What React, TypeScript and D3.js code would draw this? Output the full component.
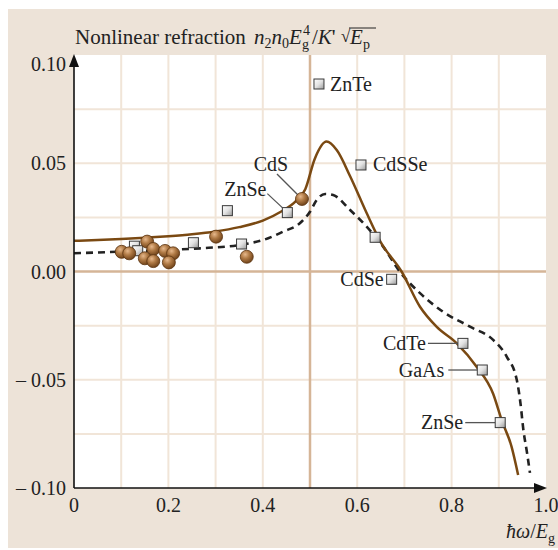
import React from 'react';
import * as d3 from 'd3';

// curve: theory (solid) and a second model (dashed)
const solidX = [0, 0.05, 0.1, 0.15, 0.2, 0.25, 0.3, 0.35, 0.4, 0.44, 0.47, 0.49, 0.51, 0.535, 0.557, 0.585, 0.62, 0.65, 0.694, 0.733, 0.768, 0.811, 0.853, 0.888, 0.906, 0.927, 0.941];
const solidY = [0.0142, 0.0145, 0.015, 0.0156, 0.0163, 0.0172, 0.0185, 0.0205, 0.0235, 0.0278, 0.0325, 0.038, 0.052, 0.06, 0.056, 0.044, 0.027, 0.0135, 0, -0.0163, -0.0255, -0.0332, -0.044, -0.0565, -0.0686, -0.0809, -0.094];

const dashX = [0, 0.1, 0.2, 0.267, 0.358, 0.4, 0.443, 0.479, 0.5, 0.514, 0.532, 0.549, 0.585, 0.62, 0.655, 0.69, 0.733, 0.782, 0.839, 0.888, 0.917, 0.938, 0.946, 0.952, 0.96, 0.966];
const dashY = [0.0084, 0.0092, 0.01, 0.0107, 0.0125, 0.0145, 0.0184, 0.0224, 0.0276, 0.033, 0.0358, 0.0353, 0.0284, 0.0207, 0.0115, 0, -0.01, -0.0186, -0.0255, -0.0316, -0.0394, -0.05, -0.061, -0.073, -0.084, -0.093];

// measured points (squares)
const squareX = [0.519, 0.608, 0.452, 0.325, 0.638, 0.673, 0.824, 0.865, 0.903, 0.355, 0.253, 0.128, 0.135];
const squareY = [0.0866, 0.0492, 0.0272, 0.0281, 0.0158, -0.0036, -0.0332, -0.0455, -0.0698, 0.0127, 0.0133, 0.0117, 0.0096];

// measured points (spheres)
const circleX = [0.101, 0.117, 0.155, 0.168, 0.15, 0.168, 0.193, 0.21, 0.201, 0.301, 0.366, 0.483];
const circleY = [0.0091, 0.0084, 0.0138, 0.0104, 0.0061, 0.0048, 0.0095, 0.0084, 0.0042, 0.0161, 0.0068, 0.0335];

const xTicks = [0, 0.2, 0.4, 0.6, 0.8, 1.0];
const yTicks = [0.1, 0.05, 0, -0.05, -0.1];
const yTickLabels = ['0.10', '0.05', '0.00', '– 0.05', '– 0.10'];

// labels: kind, index into marker arrays, text placement and leader relative to marker
const labels = [
  { text: 'ZnTe', kind: 'sq', i: 0, dx: 11, dy: 7, anchor: 'start', lead: null },
  { text: 'CdSSe', kind: 'sq', i: 1, dx: 12, dy: 6, anchor: 'start', lead: null },
  { text: 'CdS', kind: 'ci', i: 11, dx: -31, dy: -28, anchor: 'middle', lead: [-25, -25, -4, -4] },
  { text: 'ZnSe', kind: 'sq', i: 2, dx: -42, dy: -17, anchor: 'middle', lead: [-20, -19, -5, -5] },
  { text: 'CdSe', kind: 'sq', i: 5, dx: -8, dy: 7, anchor: 'end', lead: null },
  { text: 'CdTe', kind: 'sq', i: 6, dx: -37, dy: 7, anchor: 'end', lead: [-35, 0, -5, 0] },
  { text: 'GaAs', kind: 'sq', i: 7, dx: -38, dy: 7, anchor: 'end', lead: [-34, 0, -5, 0] },
  { text: 'ZnSe', kind: 'sq', i: 8, dx: -37, dy: 6, anchor: 'end', lead: [-35, 0, -5, 0] },
];

const W = 558;
const H = 550;
const left = 74, right = 546, top = 55, bottom = 488;
const FONT = '"Liberation Serif", "DejaVu Serif", serif';

export default function App() {
  const x = d3.scaleLinear().domain([0, 1]).range([left, right]);
  const y = d3.scaleLinear().domain([-0.1, 0.1]).range([bottom, top]);

  const line = d3.line<[number, number]>()
    .x(d => x(d[0]))
    .y(d => y(d[1]))
    .curve(d3.curveMonotoneX);

  const solid = line(solidX.map((v, i) => [v, solidY[i]]));
  const dashed = line(dashX.map((v, i) => [v, dashY[i]]));

  const vGrid = d3.range(1, 10).map(i => i / 10).filter(v => Math.abs(v - 0.5) > 1e-6);
  const hGrid = d3.range(-3, 4).map(i => i * 0.025).filter(v => Math.abs(v) > 1e-6);

  const markerPos = (kind: string, i: number) =>
    kind === 'sq' ? [x(squareX[i]), y(squareY[i])] : [x(circleX[i]), y(circleY[i])];

  return (
    <svg width={W} height={H} style={{ position: 'absolute', left: 0, top: 0 }} fontFamily={FONT}>
      <defs>
        <linearGradient id="sqg" x1="0" y1="0" x2="1" y2="1">
          <stop offset="0" stopColor="#ffffff" />
          <stop offset="0.5" stopColor="#e2e2e2" />
          <stop offset="1" stopColor="#9a9a9a" />
        </linearGradient>
        <radialGradient id="cig" cx="0.38" cy="0.32" r="0.7">
          <stop offset="0" stopColor="#e6b88c" />
          <stop offset="0.45" stopColor="#b07a45" />
          <stop offset="1" stopColor="#6e4118" />
        </radialGradient>
      </defs>
      <rect x={8} y={9} width={W - 8} height={539} fill="#ede3d8" />
      <rect x={left} y={top} width={right - left} height={bottom - top} fill="#ffffff" />

      {vGrid.map(v => (
        <line key={'v' + v} x1={x(v)} x2={x(v)} y1={top} y2={bottom} stroke="#f1e5d8" strokeWidth={2} />
      ))}
      {hGrid.map(v => (
        <line key={'h' + v} x1={left} x2={right} y1={y(v)} y2={y(v)} stroke="#f1e5d8" strokeWidth={2} />
      ))}
      <line x1={x(0.5)} x2={x(0.5)} y1={top} y2={bottom} stroke="#d5b597" strokeWidth={2.5} />
      <line x1={left} x2={right} y1={y(0)} y2={y(0)} stroke="#d5b597" strokeWidth={2.5} />

      <path d={dashed ?? ''} fill="none" stroke="#222" strokeWidth={2.6} strokeDasharray="7,5" />
      <path d={solid ?? ''} fill="none" stroke="#7a4912" strokeWidth={2.5} />

      {labels.filter(l => l.lead).map((l, k) => {
        const [mx, my] = markerPos(l.kind, l.i);
        const ld = l.lead as number[];
        return (
          <line key={'ld' + k} x1={mx + ld[0]} y1={my + ld[1]} x2={mx + ld[2]} y2={my + ld[3]}
            stroke="#555" strokeWidth={1.3} />
        );
      })}

      {squareX.map((v, i) => (
        <rect key={'s' + i} x={x(v) - 5} y={y(squareY[i]) - 5} width={10} height={10}
          fill="url(#sqg)" stroke="#3a3a3a" strokeWidth={1} />
      ))}
      {circleX.map((v, i) => (
        <circle key={'c' + i} cx={x(v)} cy={y(circleY[i])} r={6.5}
          fill="url(#cig)" stroke="#5a3310" strokeWidth={0.8} />
      ))}

      {labels.map((l, k) => {
        const [mx, my] = markerPos(l.kind, l.i);
        return (
          <text key={'lb' + k} x={mx + l.dx} y={my + l.dy} fontSize={20} fill="#222"
            textAnchor={l.anchor as any}>{l.text}</text>
        );
      })}

      {/* axes */}
      <line x1={left} x2={left} y1={bottom} y2={top + 8} stroke="#111" strokeWidth={1.6} />
      <path d={`M${left},${top - 1} L${left - 5},${top + 12} L${left + 5},${top + 12} Z`} fill="#111" />
      <line x1={left} x2={right - 8} y1={bottom} y2={bottom} stroke="#111" strokeWidth={1.6} />
      <path d={`M${right + 1},${bottom} L${right - 12},${bottom - 5} L${right - 12},${bottom + 5} Z`} fill="#111" />

      {yTicks.map((v, i) => (
        <text key={'yt' + i} x={left - 8} y={y(v) + (i === 0 ? 16 : 7)} fontSize={20} fill="#222" textAnchor="end">
          {yTickLabels[i]}
        </text>
      ))}
      {xTicks.map((v, i) => (
        <text key={'xt' + i} x={x(v)} y={512} fontSize={20} fill="#222" textAnchor="middle">
          {d3.format('.1f')(v) === '0.0' ? '0' : d3.format('.1f')(v)}
        </text>
      ))}

      <text x={555} y={538} fontSize={20} fill="#222" textAnchor="end">
        <tspan fontStyle="italic">ħω</tspan>/<tspan fontStyle="italic">E</tspan>
        <tspan fontSize={14} dy={5}>g</tspan>
      </text>

      <text x={75} y={44} fontSize={21} fill="#222">
        Nonlinear refraction <tspan fontStyle="italic" dx={3}>n</tspan>
        <tspan fontSize={14} dy={4}>2</tspan>
        <tspan fontStyle="italic" dy={-4}>n</tspan>
        <tspan fontSize={14} dy={4}>0</tspan>
        <tspan fontStyle="italic" dy={-4}>E</tspan>
        <tspan fontSize={14} dy={5}>g</tspan>
        <tspan fontSize={14} dx={-6} dy={-14}>4</tspan>
        <tspan dx={2} dy={9}>/</tspan>
        <tspan fontStyle="italic">K</tspan>
        <tspan>'</tspan>
      </text>
      <text x={341} y={42} fontSize={17} fill="#222">√</text>
      <text x={350} y={44} fontSize={21} fill="#222" fontStyle="italic">E</text>
      <text x={363} y={49} fontSize={14} fill="#222">p</text>
      <line x1={349} x2={376} y1={28} y2={28} stroke="#222" strokeWidth={1} />
    </svg>
  );
}
